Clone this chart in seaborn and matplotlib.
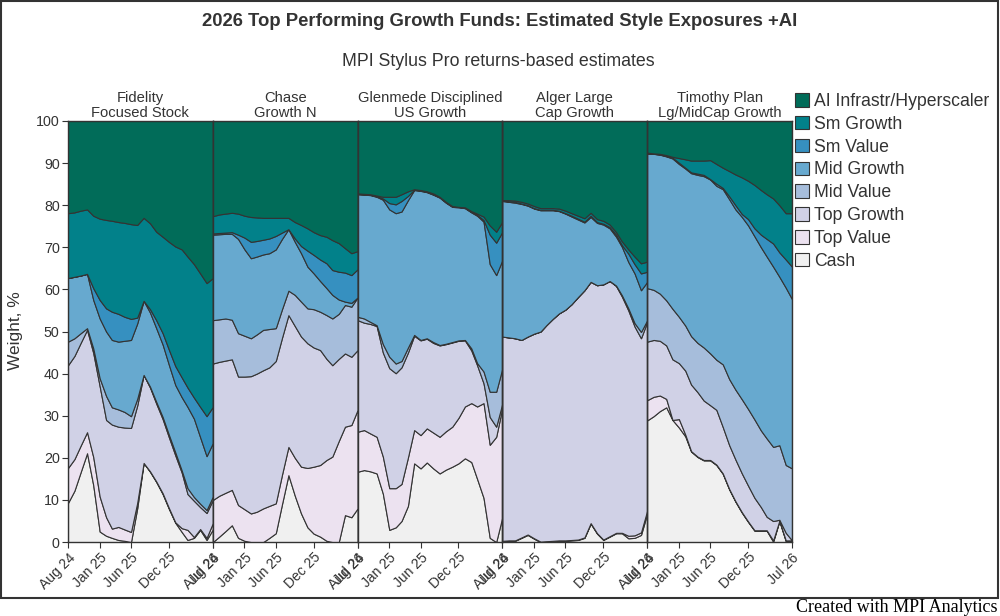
import matplotlib
matplotlib.use("Agg")
import matplotlib.pyplot as plt
from matplotlib.patches import Patch, Rectangle
import numpy as np
import pandas as pd
import seaborn as sns

# monthly style weights (%), Aug 2024 .. Jul 2026
months = pd.date_range("2024-08-01", periods=24, freq="MS")
tick_idx = [0, 5, 10, 16, 23]

styles = ["Cash", "Top Value", "Top Growth", "Mid Value", "Mid Growth",
          "Sm Value", "Sm Growth", "AI Infrastr/Hyperscaler"]
colors = ["#f0f0f0", "#ece2f0", "#d0d1e6", "#a6bddb", "#67a9cf",
          "#3690c0", "#02818a", "#016c59"]

fund_titles = ["Fidelity\nFocused Stock", "Chase\nGrowth N", "Glenmede Disciplined\nUS Growth",
               "Alger Large\nCap Growth", "Timothy Plan\nLg/MidCap Growth"]

fidelity = {
    "Cash": [9.3, 12.2, 16.6, 21.1, 13.5, 2.5, 1.5, 1, 0.5, 0.3, 0, 8, 18.8, 16.7, 14.3, 11.4, 7.9, 4.6, 2.4, 0.5, 1, 2.9, 0.5, 3],
    "Top Value": [8.3, 7.5, 6.3, 5, 6.7, 8.3, 4.4, 2.2, 3.1, 2.7, 2.4, 1.3, 0, 0.1, 0.1, 0.2, 0.2, 0.1, 0.9, 2.4, 0.2, 0.2, 0.5, 1.5],
    "Top Growth": [24.4, 24.5, 24.4, 24.3, 24.7, 26.2, 23.1, 24.7, 23.8, 24.2, 24.7, 23.1, 20.9, 19.9, 18.5, 17.6, 16.8, 15.9, 13.2, 8.5, 8.6, 5.2, 5.9, 5.5],
    "Mid Value": [5.6, 4.2, 2.3, 0.4, 1.1, 1.9, 5.7, 4.1, 4.1, 3.7, 2.8, 1.6, 0, 0.2, 0.4, 0.5, 0.6, 0.7, 0.5, 1.4, 0.9, 0.8, 0.7, 0.8],
    "Mid Growth": [15.1, 14.6, 13.7, 12.9, 11.5, 14.2, 15.3, 16, 16.1, 16.9, 18.1, 17.9, 17.6, 17.6, 17.5, 17.2, 16.6, 16, 17.4, 19.3, 18.6, 15.8, 12.8, 12.7],
    "Sm Value": [0, 0, 0, 0, 2.8, 4.4, 5.5, 6.7, 6.6, 5.7, 5, 1.4, 0, 0.8, 1.9, 2.7, 3.6, 4.5, 4.7, 4.6, 5, 7.2, 9.5, 8.6],
    "Sm Growth": [15.4, 15.3, 15.4, 15.3, 17.2, 19.3, 21, 21.6, 21.8, 22.3, 22.5, 22, 19.7, 20.4, 21, 22.9, 25.6, 28.4, 30.4, 31.1, 31.7, 31.7, 31.6, 30.6],
    "AI Infrastr/Hyperscaler": [21.9, 21.7, 21.3, 21, 22.5, 23.2, 23.5, 23.7, 24, 24.2, 24.5, 24.7, 23, 24.3, 26.3, 27.5, 28.7, 29.8, 30.5, 32.2, 34, 36.2, 38.5, 37.3],
}

chase = {
    "Cash": [0, 1.3, 2.6, 4, 1, 0.3, 0, 0, 0, 1, 2.1, 9, 15.9, 11, 6.8, 3.5, 2, 1.3, 0.3, 0, 0, 6.4, 5.9, 8],
    "Top Value": [10, 9.7, 9.1, 8.4, 7.8, 7.5, 6.8, 7.2, 8, 7.6, 7.1, 7, 6.7, 9, 11.1, 14.1, 15.9, 17, 19.2, 20.3, 24, 21, 21.9, 23.4],
    "Top Growth": [32.4, 31.8, 31.4, 31, 30.5, 31.5, 32.6, 32.8, 32.8, 32.9, 33.8, 32.5, 31.3, 31.3, 30.9, 29.6, 28.3, 27.3, 24, 21.7, 19.5, 17.4, 16.2, 14.2],
    "Mid Value": [10.3, 10.1, 10, 9.4, 10.3, 9.7, 9, 9.3, 9.6, 9.1, 7.8, 6.8, 5.8, 7.4, 8.3, 8.3, 9.1, 9.1, 10.4, 11.1, 10.7, 11.5, 11.9, 12.5],
    "Mid Growth": [20.3, 20.2, 20.1, 20.4, 22.4, 20.5, 19, 18.5, 17.9, 18, 18.7, 16.7, 14.6, 12.6, 11.5, 9.9, 8.5, 7.3, 6.4, 5.6, 3.4, 0.8, 0.9, 0],
    "Sm Value": [0.3, 0.3, 0.3, 0.4, 1, 2.8, 3.9, 3.7, 3.5, 3.5, 3.2, 1.5, 0, 0.8, 1.7, 3.8, 4.4, 5.1, 5.9, 5.9, 6.6, 6.9, 6.6, 6.7],
    "Sm Growth": [4.1, 4.4, 4.5, 4.6, 5, 5.2, 5.9, 5.6, 5.2, 4.9, 4.3, 3.5, 2.7, 3.9, 5, 5.3, 5.4, 5.8, 6.3, 7.1, 6.8, 5.8, 5.2, 4.3],
    "AI Infrastr/Hyperscaler": [22.6, 22.2, 22, 21.8, 22, 22.5, 22.8, 22.9, 23, 23, 23, 23, 23, 24, 24.7, 25.5, 26.4, 27.1, 27.5, 28.3, 29, 30.2, 31.4, 30.9],
}

glenmede = {
    "Cash": [16.7, 17.1, 16.8, 16.3, 11.5, 2.9, 3.5, 5, 8.6, 18.7, 17.5, 18.9, 17.5, 16.3, 17.2, 17.9, 18.7, 19.9, 19, 15, 10.5, 1, 0, 6],
    "Top Value": [9.5, 9.5, 9, 8.7, 8.8, 9.9, 9.3, 8.8, 11.5, 7.9, 7.9, 8.1, 8.5, 8.7, 9.1, 9.5, 10.8, 12.3, 14, 17.2, 22.5, 22.1, 25, 26],
    "Top Growth": [26.5, 25.5, 26, 26.3, 24.7, 28.5, 27.3, 27.7, 24.9, 22.4, 22.5, 21.3, 21.3, 21.7, 20.7, 20, 18.3, 15.7, 12.5, 9.8, 4.7, 6.6, 2.4, 1],
    "Mid Value": [0.8, 1, 0.5, 0.2, 2, 2.7, 2.3, 1.5, 1.2, 0.2, 0.1, 0.1, 0.2, 0.1, 0.1, 0.1, 0.1, 0.1, 0.5, 0.5, 2.8, 6, 8.3, 8.3],
    "Mid Growth": [29.1, 29.4, 30.1, 30.5, 34.3, 35, 35.7, 35.5, 35, 34.4, 35.4, 34.7, 35, 35, 33.5, 32.1, 31.6, 31.3, 32.3, 35, 35.6, 30.3, 27.7, 25.7],
    "Sm Value": [0.1, 0.1, 0.1, 0.1, 0.3, 1.5, 2.1, 2.5, 1, 0.1, 0.1, 0.1, 0.1, 0.1, 0.1, 0.1, 0.1, 0.1, 0.1, 0.2, 0.4, 7, 7.7, 6.7],
    "Sm Growth": [0.1, 0.1, 0.1, 0.2, 0.4, 1.5, 1.8, 1.6, 1.1, 0.1, 0.1, 0.1, 0.2, 0.1, 0.1, 0.1, 0, 0.1, 0.2, 0.3, 0.8, 2.2, 2.6, 2.4],
    "AI Infrastr/Hyperscaler": [17.2, 17.3, 17.4, 17.7, 18, 18, 18, 17.4, 16.7, 16.2, 16.4, 16.7, 17.2, 18, 19.2, 20.2, 20.4, 20.5, 21.4, 22, 22.7, 24.8, 26.3, 23.9],
}

alger = {
    "Cash": [0.2, 0.3, 0.3, 1, 1.7, 0.8, 0, 0.1, 0.2, 0.3, 0.3, 0.4, 0.5, 1, 4.4, 2, 0.5, 1.3, 2.1, 2.1, 0.9, 1, 1.7, 6.8],
    "Top Value": [0.1, 0.1, 0.1, 0.1, 0.1, 0.1, 0.1, 0.1, 0.1, 0.1, 0.1, 0.1, 0.1, 0.1, 0.1, 0.1, 0.1, 0.1, 0.1, 0.1, 0.6, 0.6, 0.6, 0.7],
    "Top Growth": [48.5, 48.2, 48, 46.9, 47, 48.6, 49.9, 51.3, 52.7, 53.9, 54.8, 56, 57.6, 58.7, 57.3, 58.9, 60.6, 60.6, 58.6, 56.1, 53.5, 49.6, 46.1, 44.8],
    "Mid Value": [0, 0, 0, 0, 0, 0, 0, 0, 0, 0, 0, 0, 0, 0, 0, 0, 0, 0, 0.1, 0.3, 0.5, 0.8, 1.5, 0.4],
    "Mid Growth": [32.2, 32.2, 32.2, 32.3, 31.1, 29.7, 28.8, 27.3, 25.8, 24.3, 22.8, 20.8, 18.4, 16.1, 15.4, 14.8, 14.2, 12.5, 11.6, 11.5, 11, 11.8, 9.9, 9.1],
    "Sm Value": [0.1, 0.1, 0.2, 0.1, 0.1, 0.1, 0.1, 0.1, 0.1, 0.1, 0.1, 0.2, 0.2, 0.2, 0.3, 0.2, 0.2, 0.3, 0.5, 0.4, 2, 2.2, 4, 2.4],
    "Sm Growth": [0.1, 0.3, 0.3, 0.4, 0.4, 0.5, 0.4, 0.4, 0.4, 0.5, 0.6, 0.6, 0.7, 0.8, 0.7, 0.7, 0.7, 0.6, 0.6, 0.9, 1, 1.8, 2.4, 2.4],
    "AI Infrastr/Hyperscaler": [18.8, 18.8, 18.9, 19.2, 19.6, 20.2, 20.7, 20.7, 20.7, 20.8, 21.3, 21.9, 22.5, 23.1, 21.8, 23.3, 23.7, 24.6, 26.4, 28.6, 30.5, 32.2, 33.8, 33.4],
}

timothy = {
    "Cash": [28.9, 29.9, 31.1, 32, 29, 27.2, 25.1, 21.5, 20.2, 19.4, 19.4, 18.3, 16.2, 12.5, 9.6, 7, 4.8, 2.7, 2.7, 2.7, 0.1, 5, 0.2, 0.4],
    "Top Value": [4.8, 4.6, 3.7, 2, 0, 2, 0.4, 0.1, 0.1, 0.1, 0.1, 0.1, 0.1, 0.1, 0.1, 0.1, 0.1, 0.1, 0.1, 0.1, 0.3, 0.1, 0.2, 0],
    "Top Growth": [13.9, 13.5, 13, 12.7, 14.4, 13.3, 15.2, 15.8, 15.3, 14.1, 13, 13, 11, 10.4, 9.9, 9.2, 8.5, 7.7, 5.5, 3.2, 4.6, 0.2, 1.8, 0],
    "Mid Value": [12.7, 11.9, 11.2, 10.7, 12, 11, 10.7, 11.5, 11.7, 12.6, 12.3, 11.9, 14.9, 15.7, 16.6, 17.6, 18.2, 18.6, 18.2, 18.6, 17.6, 17.7, 16.1, 17.1],
    "Mid Growth": [32, 32.3, 33, 34.2, 35.7, 36.3, 37.3, 38.7, 39.9, 40.7, 41.3, 41.3, 41.6, 42.7, 42.8, 43.3, 43.6, 43.5, 43.5, 43.2, 42.8, 40, 42.1, 40.2],
    "Sm Value": [0, 0, 0.1, 0.1, 0.2, 0.3, 0.2, 0.2, 0.3, 0.3, 0.1, 0.5, 0.3, 0.7, 1, 0.7, 1.5, 1.9, 3, 4.2, 5.5, 5.8, 6.7, 7.7],
    "Sm Growth": [0.2, 0.1, 0.1, 0.2, 0.2, 1.1, 2, 2.8, 3.1, 3.4, 4.5, 4.7, 4.8, 6, 7.3, 8.7, 9.1, 10.3, 10.6, 10.6, 10.7, 11.2, 11, 12.7],
    "AI Infrastr/Hyperscaler": [7.5, 7.7, 7.8, 8.1, 8.5, 8.8, 9.1, 9.4, 9.4, 9.4, 9.3, 10.2, 11.1, 11.9, 12.7, 13.4, 14.2, 15.2, 16.4, 17.4, 18.4, 20, 21.9, 21.9],
}

funds = [fidelity, chase, glenmede, alger, timothy]

sns.set_style("white")
plt.rcParams["font.family"] = ["Liberation Sans", "DejaVu Sans"]
ink = "#333333"

fig = plt.figure(figsize=(10, 6.16), dpi=100)
axes = fig.subplots(1, 5, sharey=True)
fig.subplots_adjust(left=0.068, right=0.792, bottom=0.12, top=0.8036, wspace=0)

for ax, fund, title in zip(axes, funds, fund_titles):
    df = pd.DataFrame(fund, index=months)
    ax.stackplot(df.index, [df[s].values for s in styles], colors=colors,
                 edgecolor=ink, linewidth=0.8)
    ax.set_xlim(months[0], months[-1])
    ax.set_ylim(0, 100)
    ax.set_title(title, fontsize=10.6, color=ink, pad=3, linespacing=1.05)
    ax.set_xticks(months[tick_idx])
    ax.set_xticklabels([months[i].strftime("%b %y") for i in tick_idx],
                       rotation=45, ha="right", rotation_mode="anchor", fontsize=10, color=ink)
    ax.tick_params(axis="x", length=4, width=0.8, color=ink, pad=2, bottom=True)
    for sp in ax.spines.values():
        sp.set_color(ink)
        sp.set_linewidth(1)

axes[0].set_yticks(np.arange(0, 101, 10))
axes[0].tick_params(axis="y", length=4, width=0.8, color=ink, labelsize=10.3, labelcolor=ink, pad=2, left=True)
for ax in axes[1:]:
    ax.tick_params(axis="y", left=False)

fig.text(0.5, 1 - 21 / 616, "2026 Top Performing Growth Funds: Estimated Style Exposures +AI",
         ha="center", va="center", fontsize=13.3, fontweight="bold", color=ink)
fig.text(0.498, 1 - 62 / 616, "MPI Stylus Pro returns-based estimates",
         ha="center", va="center", fontsize=12.8, color=ink)
fig.text(0.016, 0.464, "Weight, %", rotation=90, ha="center", va="center", fontsize=12.5, color=ink)

handles = [Patch(facecolor=c, edgecolor=ink, linewidth=0.8) for c in colors][::-1]
fig.legend(handles, styles[::-1], loc="upper left", bbox_to_anchor=(0.795, 1 - 93 / 616),
           frameon=False, fontsize=12.7, handlelength=0.8, handleheight=0.8,
           handletextpad=0.3, labelspacing=0.33, borderaxespad=0, borderpad=0,
           labelcolor=ink)

fig.patches.append(Rectangle((0.001, 1 - 598 / 616), 0.997, 598 / 616 - 0.002,
                             transform=fig.transFigure, fill=False, edgecolor=ink, linewidth=1.5))
fig.text(0.998, 1 - 607 / 616, "Created with MPI Analytics", ha="right", va="center",
         fontsize=13, family=["Liberation Serif", "DejaVu Serif"], color="black")

fig.savefig("out.png", dpi=100)
